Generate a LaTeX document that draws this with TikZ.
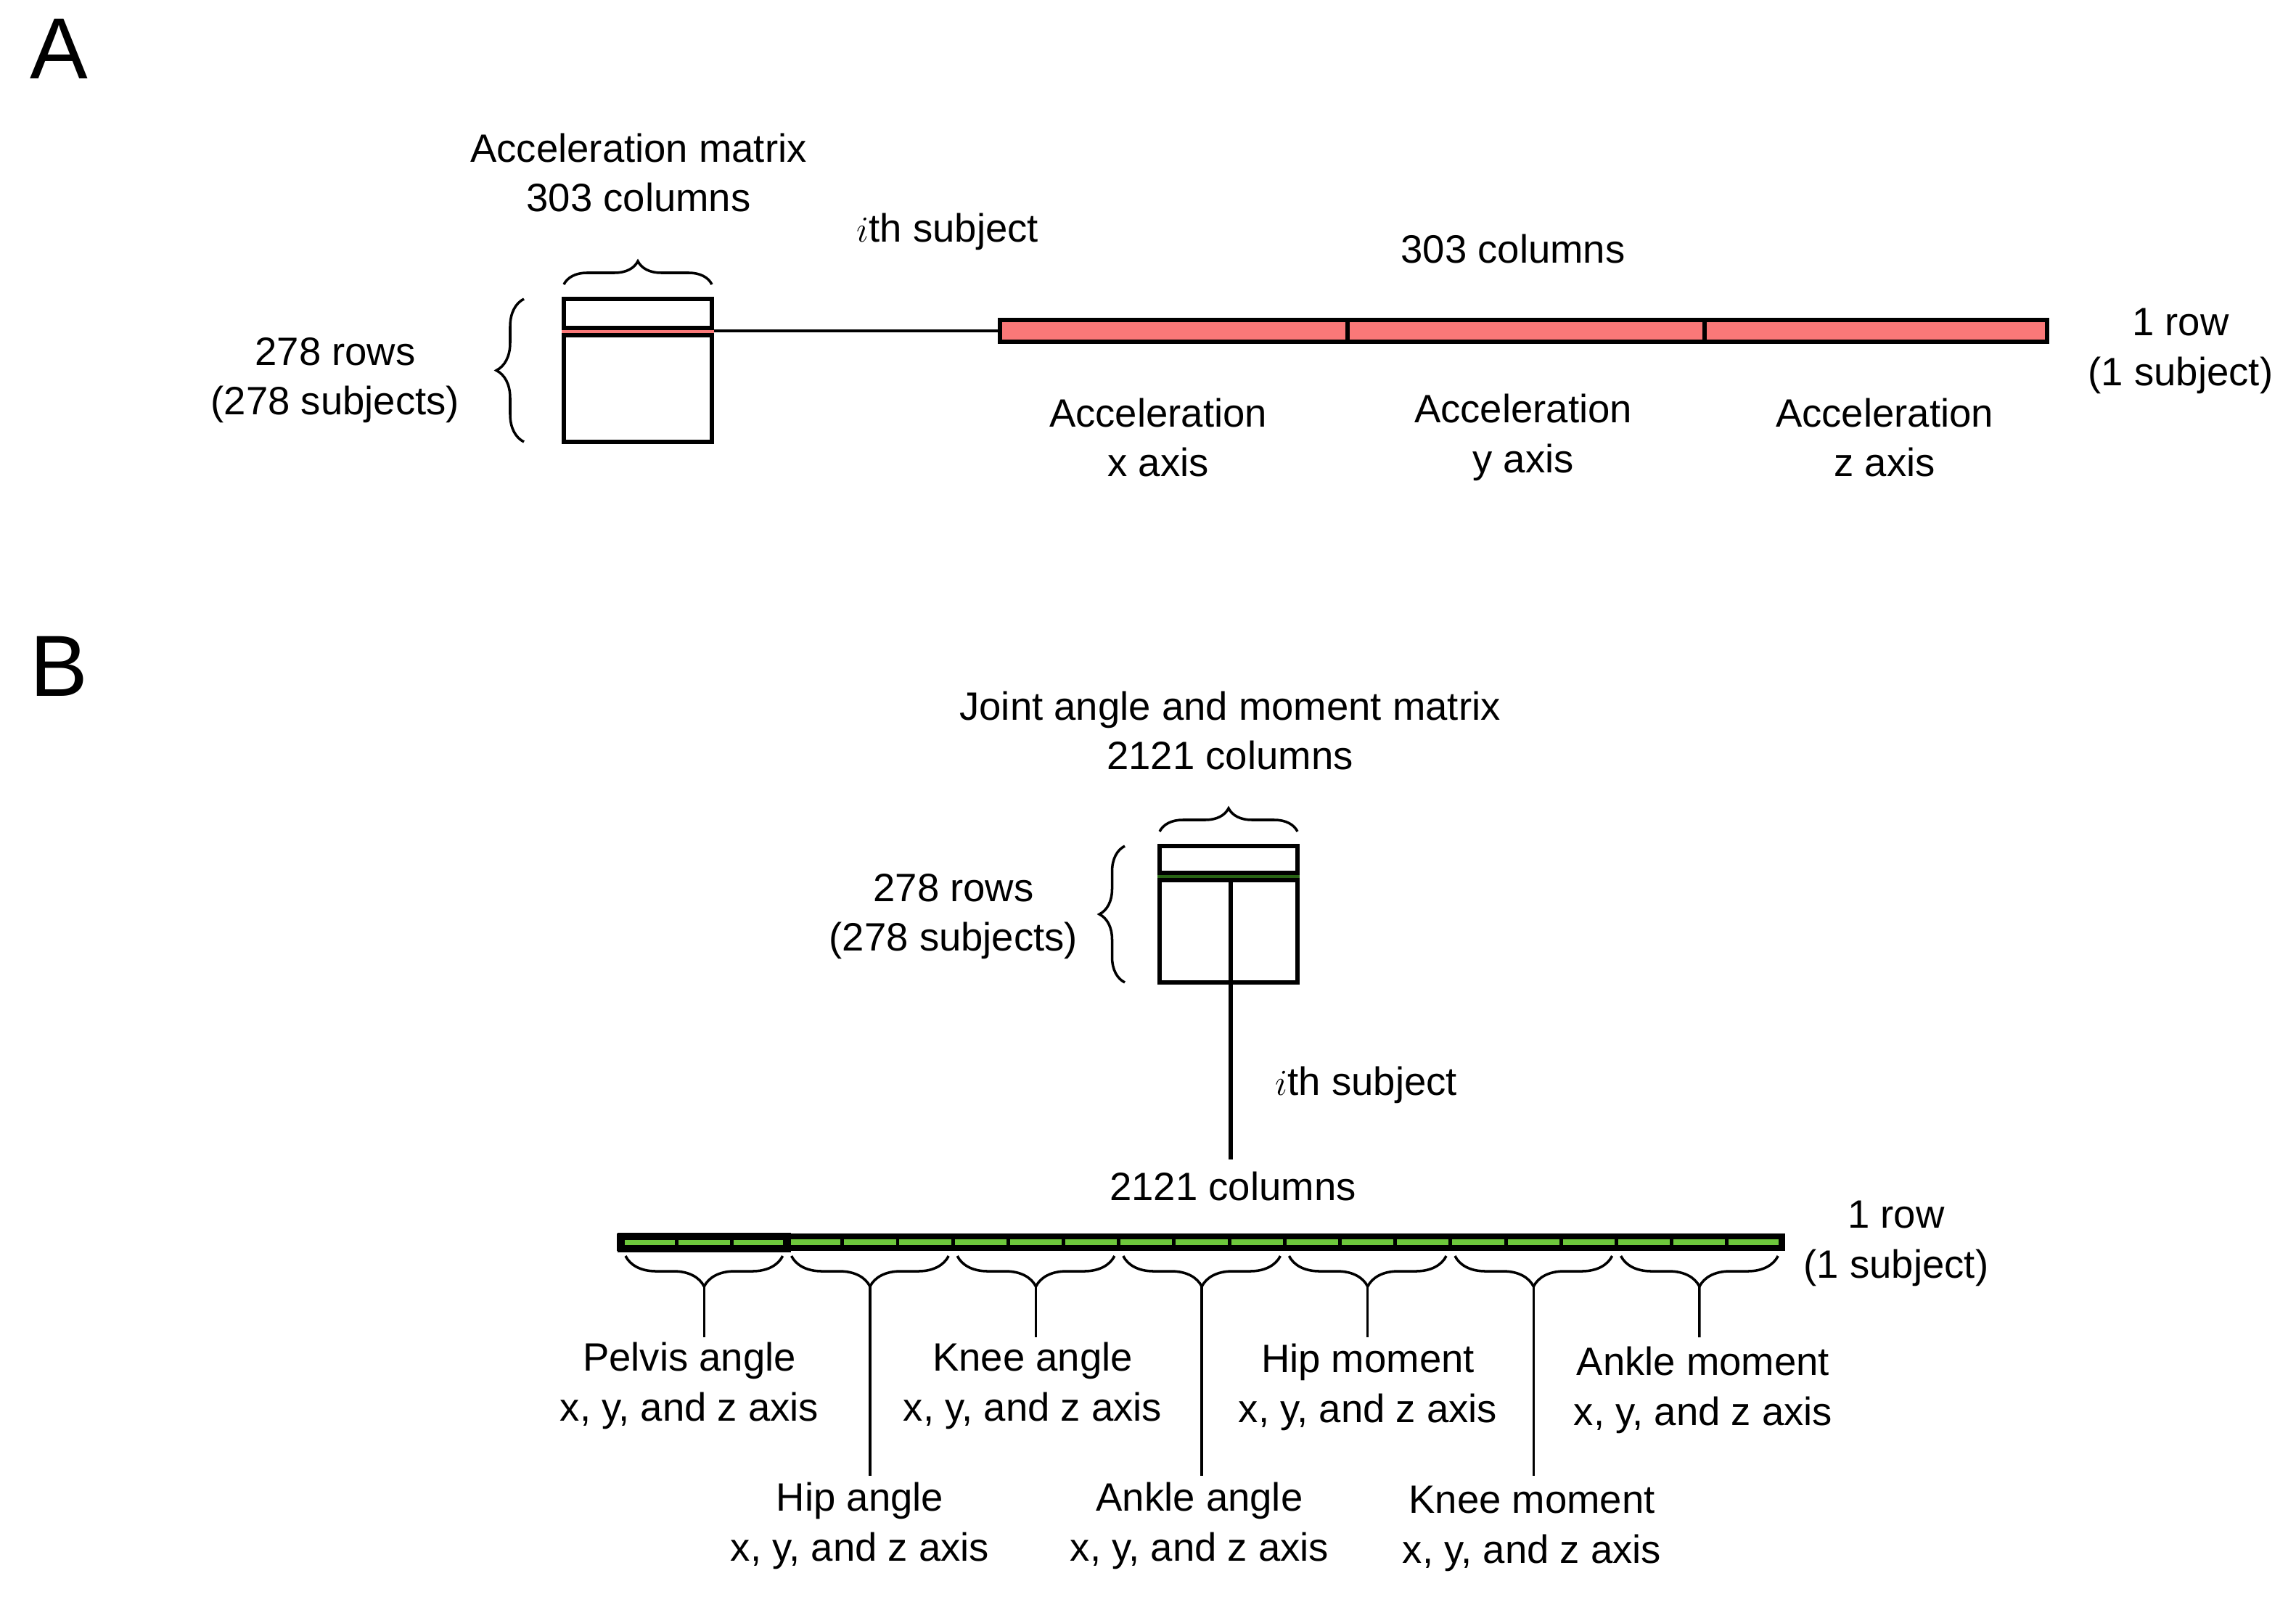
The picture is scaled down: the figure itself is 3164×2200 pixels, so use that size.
\documentclass[tikz,border=0pt]{standalone}
\usepackage{fontspec}
\setmainfont{Liberation Sans}
\usetikzlibrary{decorations.pathreplacing}
\definecolor{rd}{RGB}{250,120,120}
\definecolor{gr}{RGB}{110,200,60}
\definecolor{dg}{RGB}{40,100,20}
\begin{document}
\begin{tikzpicture}[x=0.01cm,y=-0.01cm,
  txt/.style={align=center,font=\fontsize{15.5}{19.5}\selectfont,inner sep=0},
  big/.style={font=\fontsize{34}{34}\selectfont,inner sep=0},
  ln/.style={line width=1.6pt},
  br/.style={line width=1pt,decorate,decoration={brace,amplitude=#1}}]
\useasboundingbox (0,0) rectangle (3164,2200);
% ---------- A
\node[big] (labA) at (81,67) {A};
\node[txt] (amt) at (880,238) {Acceleration matrix\\303 columns};
\draw[br=0.32cm] (777,392) -- (981,392);
\draw[br=0.38cm] (722,609) -- (722,412);
\node[txt] (arows) at (462,524) {278 rows\\(278 subjects)};
\node[draw,ln,minimum width=2.04cm,minimum height=1.97cm,inner sep=0] (amat) at (879,510.5) {};
\fill[rd] (amat.west|-0,452) rectangle (amat.east|-0,462);
\draw[ln] (amat.west|-0,452) -- (amat.east|-0,452) (amat.west|-0,462) -- (amat.east|-0,462);
\node[draw,ln,fill=rd,minimum width=4.79cm,minimum height=0.30cm,inner sep=0] (ax) at (1617.5,456) {};
\node[draw,ln,fill=rd,minimum width=4.92cm,minimum height=0.30cm,inner sep=0] (ay) at (2103,456) {};
\node[draw,ln,fill=rd,minimum width=4.72cm,minimum height=0.30cm,inner sep=0] (az) at (2585,456) {};
\draw[line width=1.2pt] (amat.east|-ax.west) -- (ax.west);
\node[txt] (aith) at (1306,319) {$i$th subject};
\node[txt] (a303) at (2085,343) {303 columns};
\node[txt] (arow) at (3005,484) {1 row\\(1 subject)};
\node[txt] (lx) at (1596,603) {Acceleration\\x axis};
\node[txt] (ly) at (2099,603) {Acceleration\\y axis};
\node[txt] (lz) at (2597,603) {Acceleration\\z axis};
% ---------- B
\node[big] (labB) at (81,918) {B};
\node[txt] (bmt) at (1695,1007) {Joint angle and moment matrix\\2121 columns};
\draw[br=0.32cm] (1598,1146) -- (1788,1146);
\draw[br=0.35cm] (1550,1354) -- (1550,1166);
\node[txt] (brows) at (1314,1263) {278 rows\\(278 subjects)};
\node[draw,ln,minimum width=1.90cm,minimum height=1.88cm,inner sep=0] (bmat) at (1693,1260) {};
\fill[dg] (bmat.west|-0,1204) rectangle (bmat.east|-0,1212);
\draw[ln] (bmat.west|-0,1203) -- (bmat.east|-0,1203) (bmat.west|-0,1213) -- (bmat.east|-0,1213);
\coordinate (bend) at (1696,1598);
\draw[ln] (1696,1213) -- (bend);
\node[txt] (bith) at (1883,1495) {$i$th subject};
\node[txt] (b2121) at (1699,1635) {2121 columns};
\node[txt] (brow) at (2613,1714) {1 row\\(1 subject)};
\node[draw,line width=2.4pt,fill=gr,minimum width=16.0cm,minimum height=0.16cm,inner sep=0] (bar) at (1655,1712) {};
\foreach \i in {1,...,20}{\draw[line width=1.4pt] (856+76.19*\i,1704) -- (856+76.19*\i,1720);}
\draw[line width=3pt] (856,1704) rectangle (1084.6,1721);
\foreach \k/\d/\t/\lx/\ly [count=\n] in {0/1843/{Pelvis angle}/950/1910,1/2034/{Hip angle}/1185/2103,2/1843/{Knee angle}/1423/1910,3/2034/{Ankle angle}/1653/2103,4/1843/{Hip moment}/1885/1912,5/2034/{Knee moment}/2111/2107,6/1843/{Ankle moment}/2347/1916}{
  \draw[br=0.42cm,decoration={mirror}] (862+228.6*\k,1731) -- (850+228.6*\k+228.6,1731) coordinate[pos=0.5,yshift=-0.42cm] (tip\n);
  \coordinate (st\n) at (856+228.6*\k+114.3,\d);
  \draw[line width=1pt] (tip\n) -- (st\n);
  \node[txt] (g\n) at (\lx,\ly) {\t\\x, y, and z axis};
}
\end{tikzpicture}
\end{document}
